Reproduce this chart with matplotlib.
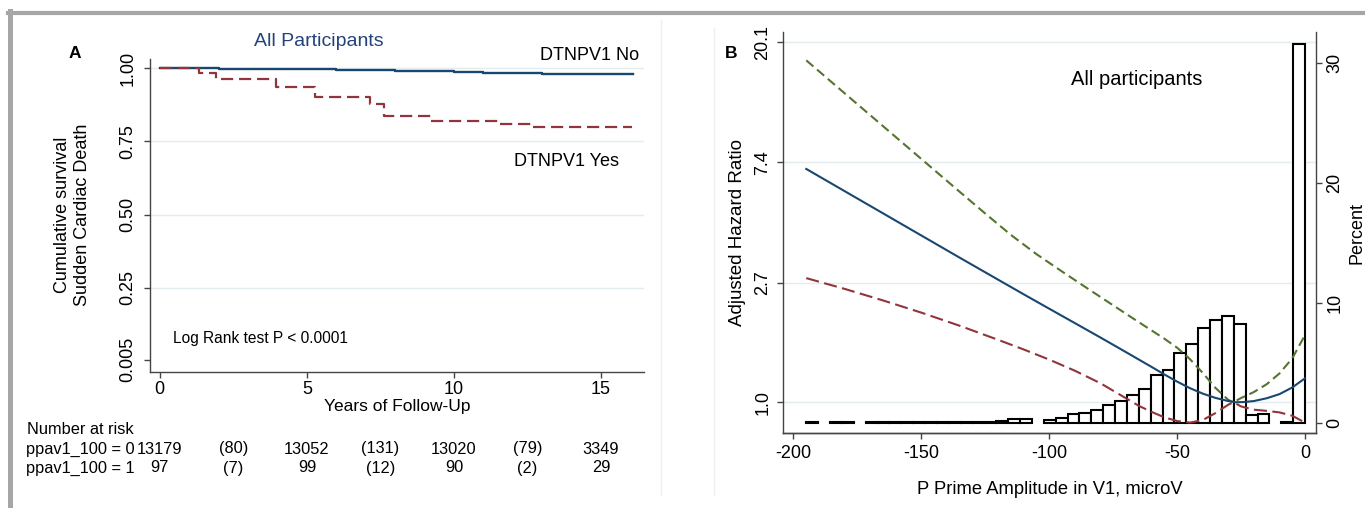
import numpy as np
import matplotlib
matplotlib.use("Agg")
import matplotlib.pyplot as plt
from matplotlib.transforms import blended_transform_factory
from matplotlib.lines import Line2D

plt.rcParams['font.family'] = ['Liberation Sans', 'DejaVu Sans']

W, H = 1365, 508

# ---------------- Panel A: Kaplan-Meier survival ----------------
km_no_t = [0, 1, 2, 3, 4, 5, 6, 7, 8, 9, 10, 11, 12, 13, 14, 15, 16, 16.1]
km_no_s = [1.0, 0.9993, 0.9985, 0.9975, 0.9966, 0.9957, 0.9943, 0.9925, 0.9902,
           0.9885, 0.9866, 0.9845, 0.9818, 0.9795, 0.9790, 0.9787, 0.9785, 0.9785]

km_yes_t = [0, 1.32, 1.90, 3.95, 5.27, 7.16, 7.62, 9.21, 11.57, 12.63, 16.05]
km_yes_s = [1.0, 0.984, 0.9625, 0.934, 0.903, 0.877, 0.837, 0.818, 0.809, 0.800, 0.800]

risk_times = [0, 5, 10, 15]
event_times = [2.5, 7.5, 12.5]
at_risk_no = [13179, 13052, 13020, 3349]
events_no = [80, 131, 79]
at_risk_yes = [97, 99, 90, 29]
events_yes = [7, 12, 2]

surv_ticks = [0.005, 0.25, 0.50, 0.75, 1.00]
surv_labels = ["0.005", "0.25", "0.50", "0.75", "1.00"]
year_ticks = [0, 5, 10, 15]

# ---------------- Panel B: spline hazard ratio + histogram ----------------
est_x = [-195, -180, -165, -150, -135, -120, -110, -100, -90, -80, -70, -65, -60,
         -55, -50, -45, -40, -35, -30, -27, -24, -20, -15, -10, -5, 0]
hr_est = [6.993, 5.812, 4.831, 4.015, 3.337, 2.779, 2.460, 2.181, 1.935, 1.716,
          1.519, 1.428, 1.343, 1.261, 1.188, 1.125, 1.075, 1.037, 1.010, 1.000,
          1.002, 1.010, 1.034, 1.070, 1.131, 1.221]

upper_x = [-195, -180, -165, -150, -135, -125, -115, -105, -95, -85, -75, -65, -55,
           -50, -45, -40, -35, -30, -28, -25, -20, -15, -10, -5, 0]
hr_upper = [17.29, 13.14, 9.994, 7.599, 5.778, 4.821, 4.035, 3.438, 2.974, 2.581,
            2.243, 1.950, 1.699, 1.576, 1.433, 1.278, 1.127, 1.020, 1.000, 1.036,
            1.089, 1.162, 1.271, 1.441, 1.751]

lower_x = [-195, -180, -165, -150, -135, -120, -110, -100, -90, -80, -70, -65, -60,
           -55, -50, -45, -40, -35, -30, -28, -25, -20, -15, -10, -5, 0]
hr_lower = [2.815, 2.573, 2.337, 2.111, 1.892, 1.683, 1.553, 1.427, 1.301, 1.172,
            1.034, 0.971, 0.923, 0.882, 0.855, 0.844, 0.862, 0.914, 0.980, 1.000,
            0.966, 0.940, 0.931, 0.919, 0.894, 0.844]

hist_min, hist_max, hist_bins = -195, 0, 42
hist_pct = [0.02, 0, 0.02, 0.02, 0, 0.03, 0.02, 0.03, 0.03, 0.04, 0.04, 0.06,
            0.05, 0.06, 0.07, 0.08, 0.10, 0.33, 0.33, 0, 0.22, 0.36, 0.69, 0.83,
            1.06, 1.47, 1.81, 2.31, 2.78, 3.97, 4.39, 5.78, 6.53, 7.92, 8.56,
            8.89, 8.22, 0.64, 0.72, 0, 0.06, 31.6]

hr_ticks = [1.0, 2.7, 7.4, 20.1]
hr_labels = ["1.0", "2.7", "7.4", "20.1"]
pct_ticks = [0, 10, 20, 30]
ppa_ticks = [-200, -150, -100, -50, 0]

# ---------------- styling ----------------
C_BLUE = '#1a476f'
C_RED = '#90353b'
C_GREEN = '#55752f'
C_GRID = '#e2ecee'
C_AXIS = '#444444'
C_TITLE = '#24437a'

fig = plt.figure(figsize=(W / 100, H / 100), dpi=100)


def fx(x):
    return x / W


def fy(y):
    return 1 - y / H


def box(l, t, r, b):
    return [fx(l), fy(b), fx(r) - fx(l), fy(t) - fy(b)]


def style_axis(ax):
    for s in ax.spines.values():
        s.set_color(C_AXIS)
        s.set_linewidth(1.0)
    ax.tick_params(colors=C_AXIS, labelcolor='black', length=4.5, width=1.0,
                   labelsize=13)


# frame around the figure
fig.add_artist(Line2D([fx(8), 1], [fy(13), fy(13)], color='#a6a6a6', lw=3,
                      transform=fig.transFigure))
fig.add_artist(Line2D([fx(10), fx(10)], [fy(11), 0], color='#a6a6a6', lw=3.6,
                      transform=fig.transFigure))
fig.add_artist(Line2D([fx(661), fx(661)], [fy(20), fy(495)], color='#efefef', lw=1,
                      transform=fig.transFigure))
fig.add_artist(Line2D([fx(714), fx(714)], [fy(28), fy(495)], color='#efefef', lw=1,
                      transform=fig.transFigure))

# ---- Panel A ----
axA = fig.add_axes(box(149.6, 59, 644, 371.7))
style_axis(axA)
axA.spines['top'].set_visible(False)
axA.spines['right'].set_visible(False)
axA.set_xlim(-0.347, 16.46)
axA.set_ylim(-0.036, 1.031)
for v in surv_ticks[1:]:
    axA.axhline(v, color=C_GRID, lw=1.0, zorder=0)
axA.step(km_no_t, km_no_s, where='post', color=C_BLUE, lw=1.7, zorder=3)
axA.step(km_yes_t, km_yes_s, where='post', color=C_RED, lw=1.6,
         dashes=(5.5, 2.6), zorder=3)
axA.set_yticks(surv_ticks)
axA.set_yticklabels(surv_labels, rotation=90, va='center')
axA.set_xticks(year_ticks)
axA.tick_params(axis='y', pad=5)
axA.tick_params(axis='x', pad=2)
axA.set_xlabel("Years of Follow-Up", fontsize=12.5, labelpad=1)

fig.text(fx(74.5), fy(54), "A", fontsize=12.5, fontweight='bold', ha='center', va='center')
fig.text(fx(319), fy(42), "All Participants", fontsize=14, color=C_TITLE,
         ha='center', va='center')
fig.text(fx(590), fy(55), "DTNPV1 No", fontsize=13, ha='center', va='center')
fig.text(fx(566), fy(162), "DTNPV1 Yes", fontsize=13, ha='center', va='center')
fig.text(fx(62.5), fy(215), "Cumulative survival", fontsize=13, rotation=90,
         ha='center', va='center')
fig.text(fx(82.6), fy(215), "Sudden Cardiac Death", fontsize=13, rotation=90,
         ha='center', va='center')
fig.text(fx(173), fy(338), "Log Rank test P < 0.0001", fontsize=11.2,
         ha='left', va='center')

# number at risk table
fs_tab = 11.8
fig.text(fx(27), fy(430), "Number at risk", fontsize=fs_tab, ha='left', va='center')
fig.text(fx(26), fy(449), "ppav1_100 = 0", fontsize=fs_tab, ha='left', va='center')
fig.text(fx(26), fy(468), "ppav1_100 = 1", fontsize=fs_tab, ha='left', va='center')
tr = blended_transform_factory(axA.transData, fig.transFigure)
for t, n in zip(risk_times, at_risk_no):
    fig.text(t, fy(449), f"{n}", fontsize=fs_tab, ha='center', va='center', transform=tr)
for t, n in zip(event_times, events_no):
    fig.text(t, fy(449), f"({n})", fontsize=fs_tab, ha='center', va='center', transform=tr)
for t, n in zip(risk_times, at_risk_yes):
    fig.text(t, fy(468), f"{n}", fontsize=fs_tab, ha='center', va='center', transform=tr)
for t, n in zip(event_times, events_yes):
    fig.text(t, fy(468), f"({n})", fontsize=fs_tab, ha='center', va='center', transform=tr)

# ---- Panel B ----
b_rect = box(783, 32, 1316, 433)
x_lim_b = (-204.1, 4.3)
hr_lim = (0.774, 21.9)

axB = fig.add_axes(b_rect)
style_axis(axB)
axB.spines['top'].set_visible(False)
axB.spines['right'].set_visible(False)
axB.set_yscale('log')
axB.set_xlim(*x_lim_b)
axB.set_ylim(*hr_lim)
for v in hr_ticks:
    axB.axhline(v, color=C_GRID, lw=1.0, zorder=0)
axB.set_yticks(hr_ticks)
axB.set_yticklabels(hr_labels, rotation=90, va='center')
axB.yaxis.set_minor_locator(matplotlib.ticker.NullLocator())
axB.set_xticks(ppa_ticks)
axB.set_xticklabels([str(v) for v in ppa_ticks])
axB.tick_params(axis='y', pad=4)
axB.tick_params(axis='x', pad=4)
axB.set_xlabel("P Prime Amplitude in V1, microV", fontsize=13.2, labelpad=14)
axB.set_ylabel("Adjusted Hazard Ratio", fontsize=13.5, labelpad=6)

# histogram on the right-hand percent axis
axH = axB.twinx()
style_axis(axH)
axH.spines['top'].set_visible(False)
axH.spines['left'].set_visible(False)
axH.set_xlim(*x_lim_b)
axH.set_ylim(-0.86, 32.56)
bin_w = (hist_max - hist_min) / hist_bins
edges = hist_min + bin_w * np.arange(hist_bins)
pct = np.array(hist_pct)
keep = pct > 0
axH.bar(edges[keep], pct[keep], width=bin_w, align='edge', facecolor='white',
        edgecolor='black', linewidth=1.5, zorder=2)
axH.set_yticks(pct_ticks)
axH.set_yticklabels([str(v) for v in pct_ticks], rotation=90, va='center')
axH.tick_params(axis='y', pad=3)
axH.set_ylabel("Percent", fontsize=13, labelpad=4)

# spline curves drawn above the bars
axC = axB.twinx()
axC.set_yscale('log')
axC.set_xlim(*x_lim_b)
axC.set_ylim(*hr_lim)
axC.axis('off')
axC.plot(upper_x, hr_upper, color=C_GREEN, lw=1.5, dashes=(4.5, 2.3))
axC.plot(lower_x, hr_lower, color=C_RED, lw=1.5, dashes=(6.3, 2.6))
axC.plot(est_x, hr_est, color=C_BLUE, lw=1.5)

fig.text(fx(731), fy(53), "B", fontsize=12.5, fontweight='bold', ha='center', va='center')
fig.text(fx(1137), fy(80), "All participants", fontsize=14.5, ha='center', va='center')

fig.savefig("out.png", dpi=100, facecolor='white')
